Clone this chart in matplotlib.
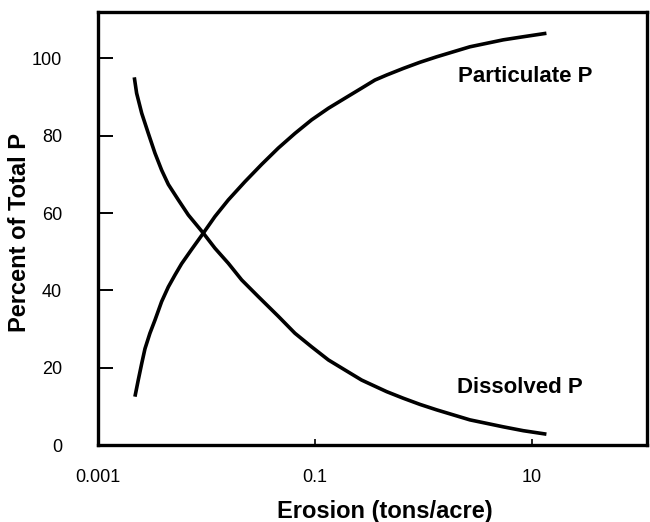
import matplotlib
matplotlib.use("Agg")
import matplotlib.pyplot as plt
from matplotlib.ticker import FixedLocator, FixedFormatter, NullLocator

# Erosion (tons/acre) and percent of total P
erosion_part = [0.00219, 0.00235, 0.00253, 0.00271, 0.00301, 0.00335, 0.00386,
                0.00445, 0.00513, 0.00590, 0.00730, 0.00935, 0.01197, 0.0159,
                0.0226, 0.0323, 0.0459, 0.0654, 0.0931, 0.133, 0.189, 0.269,
                0.357, 0.458, 0.651, 0.929, 1.32, 1.88, 2.68, 3.82, 5.44,
                8.32, 13.6]
particulate = [12.5, 16.8, 21.1, 24.9, 28.9, 32.3, 37.1,
               40.9, 44.0, 46.9, 50.6, 54.8, 59.1, 63.4,
               68.1, 72.6, 76.8, 80.6, 84.1, 87.1, 89.7, 92.3,
               94.4, 95.7, 97.4, 99.0, 100.4, 101.7, 103.0, 103.9, 104.8,
               105.6, 106.5]

erosion_diss = [0.00216, 0.00227, 0.00253, 0.00291, 0.00335, 0.00386, 0.00445,
                0.00550, 0.00680, 0.00935, 0.01197, 0.0159, 0.0211, 0.0300,
                0.0459, 0.0654, 0.0931, 0.133, 0.189, 0.269, 0.321, 0.458,
                0.651, 0.929, 1.32, 1.88, 2.68, 3.82, 5.44, 8.32, 13.6]
dissolved = [95.1, 91.0, 85.8, 80.6, 75.5, 71.1, 67.4,
             63.4, 59.5, 54.8, 50.9, 47.0, 42.7, 38.4,
             33.3, 28.9, 25.4, 22.0, 19.4, 16.8, 15.8, 13.8,
             12.1, 10.5, 9.1, 7.8, 6.5, 5.6, 4.7, 3.7, 2.8]

x_ticks = [0.001, 0.1, 10]
x_labels = ["0.001", "0.1", "10"]
y_ticks = [0, 20, 40, 60, 80, 100]

bold_font = ["Liberation Sans", "DejaVu Sans"]
tick_font = ["Liberation Sans", "DejaVu Sans"]

fig = plt.figure(figsize=(6.5, 5.22), dpi=100)
ax = fig.add_axes([98 / 650, 1 - 445 / 522, 549 / 650, 433 / 522])

ax.plot(erosion_part, particulate, color="black", lw=2.6,
        solid_capstyle="butt", solid_joinstyle="round")
ax.plot(erosion_diss, dissolved, color="black", lw=2.6,
        solid_capstyle="butt", solid_joinstyle="round")

ax.set_xscale("log")
ax.set_xlim(0.001, 115)
ax.set_ylim(0, 112)

ax.xaxis.set_major_locator(FixedLocator(x_ticks))
ax.xaxis.set_major_formatter(FixedFormatter(x_labels))
ax.xaxis.set_minor_locator(NullLocator())
ax.set_yticks(y_ticks)

ax.tick_params(axis="y", direction="in", length=11, width=1.4, pad=26,
               labelsize=13)
ax.tick_params(axis="x", direction="in", length=4.5, width=1.2, pad=17,
               labelsize=13)
for lab in ax.get_xticklabels() + ax.get_yticklabels():
    lab.set_family(tick_font)

for s in ax.spines.values():
    s.set_linewidth(2.4)

ax.text(8.6, 95.4, "Particulate P", ha="center", va="center",
        fontsize=16, fontweight="bold", family=bold_font)
ax.text(7.74, 14.9, "Dissolved P", ha="center", va="center",
        fontsize=16, fontweight="bold", family=bold_font)

ax.set_xlabel("Erosion (tons/acre)", fontsize=17, fontweight="bold",
              family=bold_font)
ax.set_ylabel("Percent of Total P", fontsize=17, fontweight="bold",
              family=bold_font)
ax.xaxis.set_label_coords(0.523, -0.128)
ax.yaxis.set_label_coords(-0.122, 0.49)

fig.savefig("out.png", dpi=100)
